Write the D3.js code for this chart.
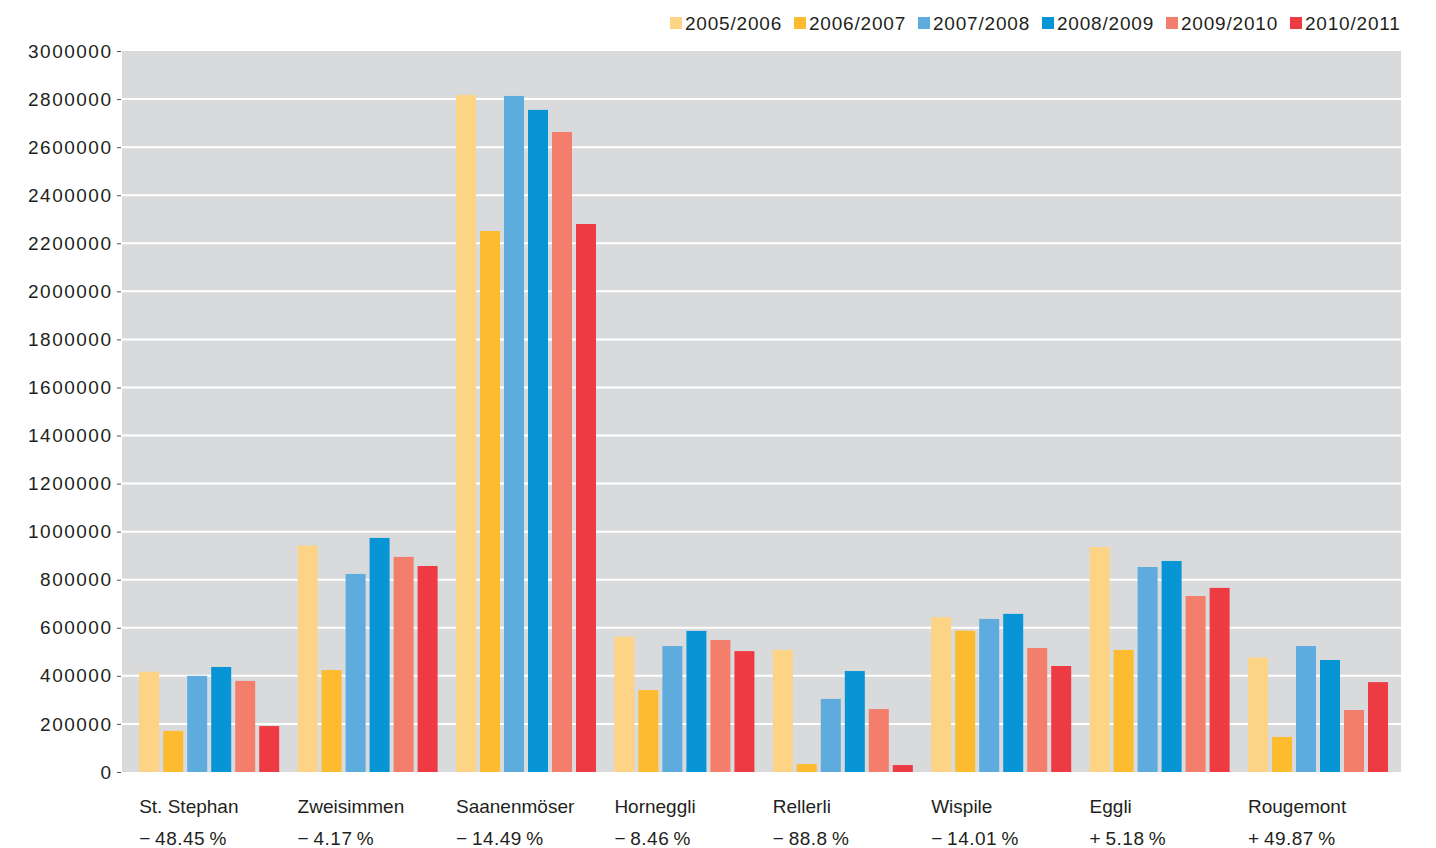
<!DOCTYPE html>
<html>
<head>
<meta charset="utf-8">
<script src="https://cdn.jsdelivr.net/npm/d3@7"></script>
<style>
  body { margin: 0; background: #fff; }
  text { font-family: "Liberation Sans", Arial, sans-serif; fill: #231f20; }
</style>
</head>
<body>
<div id="chart"></div>
<script>
// categories and their change labels
const categories = ["St. Stephan", "Zweisimmen", "Saanenmöser", "Horneggli", "Rellerli", "Wispile", "Eggli", "Rougemont"]
const changes = ["\u2212\u200948.45\u2009%", "\u2212\u20094.17\u2009%", "\u2212\u200914.49\u2009%", "\u2212\u20098.46\u2009%",
                 "\u2212\u200988.8\u2009%", "\u2212\u200914.01\u2009%", "+\u20095.18\u2009%", "+\u200949.87\u2009%"]

const seasons = ["2005/2006", "2006/2007", "2007/2008", "2008/2009", "2009/2010", "2010/2011"]
const colors = ["#fdd386", "#fdbb2f", "#5eacde", "#0795d6", "#f37e6c", "#ee3a43"]

// one array per season, in category order
const s0506 = [417000, 942000, 2817000, 563000, 508000, 644000, 936000, 476000]
const s0607 = [171000, 424000, 2251000, 341000, 33000, 588000, 508000, 146000]
const s0708 = [400000, 824000, 2813000, 524000, 304000, 637000, 853000, 524000]
const s0809 = [437000, 974000, 2755000, 587000, 420000, 658000, 878000, 466000]
const s0910 = [379000, 895000, 2663000, 549000, 262000, 516000, 732000, 258000]
const s1011 = [191000, 857000, 2280000, 503000, 29000, 441000, 766000, 374000]
const series = [s0506, s0607, s0708, s0809, s0910, s1011]

const yTicks = d3.range(0, 3000001, 200000)

const width = 1436
const height = 848
const plot = { left: 122, right: 1401, top: 51, bottom: 772 }

const svg = d3.select("#chart")
  .append("svg")
    .attr("width", width)
    .attr("height", height)

// scales
const x = d3.scaleBand()
  .domain(categories)
  .range([130, 1397.2])
  .paddingInner(0.116)
  .paddingOuter(0.058)

const xs = d3.scaleBand()
  .domain(seasons)
  .range([0, x.bandwidth()])
  .paddingInner(1 / 6)

const y = d3.scaleLinear()
  .domain([0, 3000000])
  .range([plot.bottom, plot.top])

const color = d3.scaleOrdinal().domain(seasons).range(colors)

// grey plot background
svg.append("rect")
  .attr("x", plot.left)
  .attr("y", plot.top)
  .attr("width", plot.right - plot.left)
  .attr("height", plot.bottom - plot.top)
  .attr("fill", "#d9dadc")

// white gridlines
svg.append("g")
  .selectAll("line")
  .data(yTicks.filter(d => d > 0 && d < 3000000))
  .join("line")
    .attr("x1", plot.left)
    .attr("x2", plot.right)
    .attr("y1", d => y(d))
    .attr("y2", d => y(d))
    .attr("stroke", "#fff")
    .attr("stroke-width", 2)

// y axis
const yAxis = svg.append("g")
  .attr("transform", `translate(121,0)`)
  .call(d3.axisLeft(y).tickValues(yTicks).tickSize(4).tickPadding(4.5).tickFormat(d3.format("d")))
yAxis.select(".domain").remove()
yAxis.selectAll(".tick line").attr("stroke", "#555")
yAxis.selectAll(".tick text")
  .style("font-size", "19px")
  .style("letter-spacing", "1.5px")
  .attr("font-family", null)

// bars
const rows = []
categories.forEach((c, i) => {
  seasons.forEach((s, j) => rows.push({ cat: c, season: s, value: series[j][i] }))
})

svg.append("g")
  .selectAll("rect")
  .data(rows)
  .join("rect")
    .attr("x", d => x(d.cat) + xs(d.season))
    .attr("y", d => y(d.value))
    .attr("width", xs.bandwidth())
    .attr("height", d => y(0) - y(d.value))
    .attr("fill", d => color(d.season))

// category labels and changes
const labels = svg.append("g")
labels.selectAll("text.cat")
  .data(categories)
  .join("text")
    .attr("class", "cat")
    .attr("x", d => x(d))
    .attr("y", 813)
    .style("font-size", "19px")
    .text(d => d)

labels.selectAll("text.chg")
  .data(changes)
  .join("text")
    .attr("class", "chg")
    .attr("x", (d, i) => x(categories[i]))
    .attr("y", 845)
    .style("font-size", "19px")
    .style("letter-spacing", "0.5px")
    .text(d => d)

// legend
const legend = svg.append("g")
  .selectAll("g")
  .data(seasons)
  .join("g")
    .attr("transform", (d, i) => `translate(${670 + i * 124},0)`)

legend.append("rect")
  .attr("x", 0)
  .attr("y", 17)
  .attr("width", 12)
  .attr("height", 12)
  .attr("fill", d => color(d))

legend.append("text")
  .attr("x", 15)
  .attr("y", 30)
  .style("font-size", "19px")
  .style("letter-spacing", "0.8px")
  .text(d => d)
</script>
</body>
</html>
